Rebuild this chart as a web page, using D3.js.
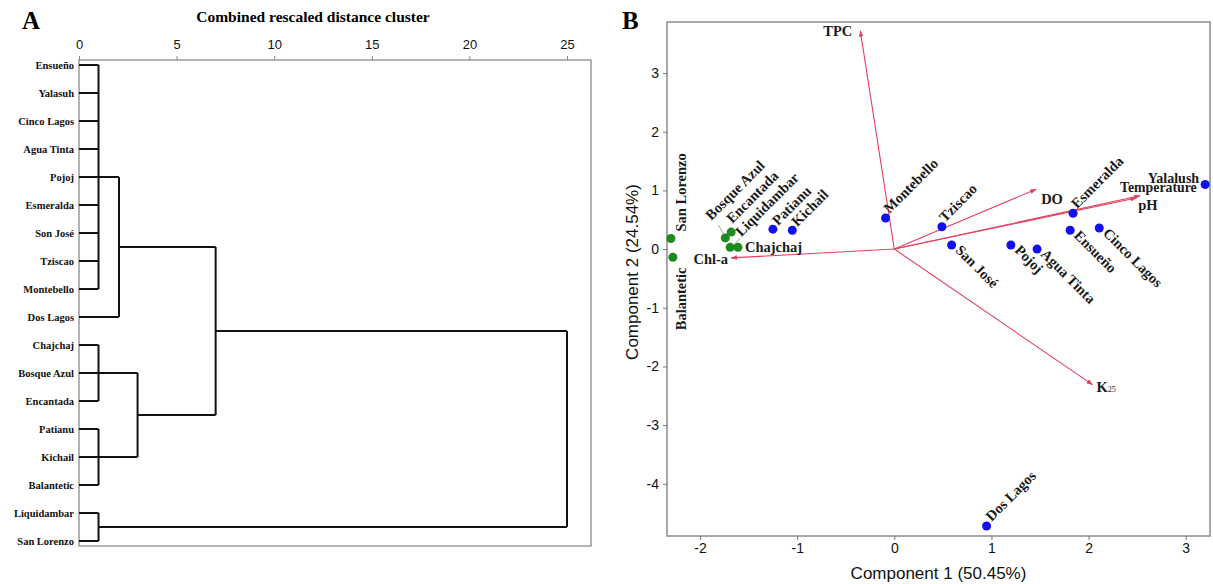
<!DOCTYPE html>
<html><head><meta charset="utf-8">
<script src="https://cdn.jsdelivr.net/npm/d3@7"></script>
<style>body{margin:0;background:#fff}</style>
</head><body>
<svg id="c" width="1213" height="584" xmlns="http://www.w3.org/2000/svg"></svg>
<script>
// ---------- Panel A data (dendrogram) ----------
const leaves = ["Ensueño","Yalasuh","Cinco Lagos","Agua Tinta","Pojoj","Esmeralda","Son José","Tziscao","Montebello","Dos Lagos","Chajchaj","Bosque Azul","Encantada","Patianu","Kichail","Balantetic","Liquidambar","San Lorenzo"];
const mergeIds = ["g1","g2","g3","g4","g5","g6","g7","g8"];
const mergeChildren = [
  ["Ensueño","Yalasuh","Cinco Lagos","Agua Tinta","Pojoj","Esmeralda","Son José","Tziscao","Montebello"],
  ["g1","Dos Lagos"],
  ["Chajchaj","Bosque Azul","Encantada"],
  ["Patianu","Kichail","Balantetic"],
  ["g3","g4"],
  ["g2","g5"],
  ["Liquidambar","San Lorenzo"],
  ["g6","g7"]
];
const mergeHeights = [1, 2.05, 1, 1, 3, 7, 1, 25];
const distTicks = [0,5,10,15,20,25];

// ---------- Panel B data (PCA biplot) ----------
const sites = ["San Lorenzo","Balantetic","Bosque Azul","Encantada","Liquidambar","Chajchaj","Patianu","Kichail","Montebello","Tziscao","San José","Pojoj","Agua Tinta","Esmeralda","Ensueño","Cinco Lagos","Yalalush","Dos Lagos"];
const comp1 = [-2.30,-2.28,-1.74,-1.68,-1.69,-1.61,-1.25,-1.05,-0.09,0.49,0.59,1.20,1.47,1.84,1.81,2.11,3.20,0.95];
const comp2 = [0.18,-0.14,0.19,0.29,0.03,0.03,0.34,0.32,0.53,0.38,0.07,0.07,0.00,0.61,0.32,0.36,1.10,-4.72];
const siteGroup = ["g","g","g","g","g","g","b","b","b","b","b","b","b","b","b","b","b","b"];
const variables = ["TPC","Chl-a","DO","Temperature","pH","K25"];
const loading1 = [-0.35,-1.68,1.46,2.53,2.49,2.04];
const loading2 = [3.72,-0.15,1.02,0.91,0.87,-2.31];
const pcTicksX = [-2,-1,0,1,2,3];
const pcTicksY = [-4,-3,-2,-1,0,1,2,3];

// ---------- styles / layout ----------
const serif = "'Liberation Serif','Times New Roman',serif";
const sans = "'Liberation Sans',Arial,sans-serif";
const svg = d3.select("#c");

// ===== Panel A =====
const A = {l:79, r:591, t:60, b:546};
const xA = d3.scaleLinear().domain([0,25]).range([79,567]);
const yA = d3.scalePoint().domain(leaves).range([65,541]);

svg.append("text").attr("x",22).attr("y",29).text("A")
  .style("font-family",serif).style("font-weight","bold").style("font-size","25px");
svg.append("text").attr("x",313).attr("y",22).attr("text-anchor","middle")
  .text("Combined rescaled distance cluster")
  .style("font-family",serif).style("font-weight","bold").style("font-size","15.5px");

svg.append("rect").attr("x",A.l).attr("y",A.t).attr("width",A.r-A.l).attr("height",A.b-A.t)
  .attr("fill","none").attr("stroke","#9a9a9a").attr("stroke-width",1.5);

const axA = svg.append("g").attr("transform",`translate(0,${A.t})`)
  .call(d3.axisTop(xA).tickValues(distTicks).tickSize(4).tickPadding(7));
axA.select(".domain").remove();
axA.selectAll("line").attr("stroke","#888");
axA.selectAll("text").style("font-family",sans).style("font-size","13px").attr("fill","#111");

// dendrogram geometry
const node = {};
leaves.forEach(n => node[n] = {y:yA(n), h:0});
const gD = svg.append("g").attr("stroke","#111").attr("stroke-width",2).attr("fill","none");
mergeIds.forEach((id,i) => {
  const kids = mergeChildren[i].map(k => node[k]);
  const h = mergeHeights[i];
  const ys = kids.map(k => k.y);
  const y0 = d3.min(ys), y1 = d3.max(ys);
  kids.forEach(k => {
    gD.append("line").attr("x1",xA(k.h)).attr("x2",xA(h)).attr("y1",k.y).attr("y2",k.y);
  });
  gD.append("line").attr("x1",xA(h)).attr("x2",xA(h)).attr("y1",y0).attr("y2",y1);
  node[id] = {y:(y0+y1)/2, h:h};
});
svg.append("g").selectAll("text").data(leaves).join("text")
  .attr("x",74).attr("y",d => yA(d)).attr("dy","0.35em").attr("text-anchor","end")
  .text(d => d)
  .style("font-family",serif).style("font-weight","bold").style("font-size","10.5px").attr("fill","#111");

// ===== Panel B =====
const B = {l:667, r:1210, t:22, b:536};
const xB = d3.scaleLinear().domain([-2.33,3.25]).range([668,B.r]);
const yB = d3.scaleLinear().domain([3.87,-4.89]).range([B.t,B.b]);

svg.append("text").attr("x",622).attr("y",29).text("B")
  .style("font-family",serif).style("font-weight","bold").style("font-size","25px");

svg.append("rect").attr("x",B.l).attr("y",B.t).attr("width",B.r-B.l).attr("height",B.b-B.t)
  .attr("fill","none").attr("stroke","#8a8a8a").attr("stroke-width",1.5);

const axX = svg.append("g").attr("transform",`translate(0,${B.b})`)
  .call(d3.axisBottom(xB).tickValues(pcTicksX).tickSize(4).tickPadding(3).tickFormat(d => String(d)));
const axY = svg.append("g").attr("transform",`translate(${B.l},0)`)
  .call(d3.axisLeft(yB).tickValues(pcTicksY).tickSize(4).tickPadding(4).tickFormat(d => String(d)));
[axX,axY].forEach(a => {
  a.select(".domain").remove();
  a.selectAll("line").attr("stroke","#777");
  a.selectAll("text").style("font-family",sans).style("font-size","14px").attr("fill","#111");
});

svg.append("text").attr("x",(B.l+B.r)/2).attr("y",579).attr("text-anchor","middle")
  .text("Component 1 (50.45%)").style("font-family",sans).style("font-size","17px").attr("fill","#111");
svg.append("text").attr("transform","translate(638,272) rotate(-90)").attr("text-anchor","middle")
  .text("Component 2 (24.54%)").style("font-family",sans).style("font-size","17px").attr("fill","#111");

// arrows
const red = "#e4405f";
svg.append("defs").append("marker").attr("id","ah").attr("viewBox","0 0 10 10")
  .attr("refX",9).attr("refY",5).attr("markerWidth",6).attr("markerHeight",6)
  .attr("orient","auto").append("path").attr("d","M0,1.5 L10,5 L0,8.5 Z").attr("fill",red);

const varLabel = {
  "TPC":{dx:-8,dy:5,anchor:"end",size:14.5},
  "Chl-a":{dx:-3,dy:6,anchor:"end",size:14.5},
  "DO":{dx:5,dy:15,anchor:"start",size:14.5},
  "Temperature":{dx:-20,dy:-4,anchor:"start",size:13.8},
  "pH":{dx:2,dy:12,anchor:"start",size:14.5},
  "K25":{dx:4,dy:7,anchor:"start",size:14.5}
};
const gV = svg.append("g");
variables.forEach((v,i) => {
  const x2 = xB(loading1[i]), y2 = yB(loading2[i]);
  gV.append("line").attr("x1",xB(0)).attr("y1",yB(0)).attr("x2",x2).attr("y2",y2)
    .attr("stroke",red).attr("stroke-width",1.1).attr("marker-end","url(#ah)");
  const st = varLabel[v];
  const t = gV.append("text").attr("x",x2+st.dx).attr("y",y2+st.dy).attr("text-anchor",st.anchor)
    .style("font-family",serif).style("font-weight","bold").style("font-size",st.size+"px").attr("fill","#1a1a1a");
  if (v === "K25") {
    t.append("tspan").text("K");
    t.append("tspan").text("25").style("font-size","8px").style("font-weight","normal");
  } else t.text(v);
});

// points + labels
const siteLabel = {
  "San Lorenzo":{rot:-90,dx:15,dy:-7},
  "Balantetic":{rot:-90,dx:13,dy:73},
  "Bosque Azul":{rot:-45,dx:-14,dy:-17,leader:[-7,-13,-1,-3]},
  "Encantada":{rot:-45,dx:1,dy:-8},
  "Liquidambar":{rot:-45,dx:11,dy:-10,leader:[4,-3,10,-9]},
  "Chajchaj":{rot:0,dx:7,dy:5},
  "Patianu":{rot:-45,dx:5,dy:-3},
  "Kichail":{rot:-45,dx:5,dy:-3},
  "Montebello":{rot:-45,dx:4,dy:-4},
  "Tziscao":{rot:-45,dx:3,dy:-4},
  "San José":{rot:45,dx:3,dy:6},
  "Pojoj":{rot:45,dx:3,dy:6},
  "Agua Tinta":{rot:45,dx:3,dy:6},
  "Esmeralda":{rot:-45,dx:4,dy:-4},
  "Ensueño":{rot:45,dx:3,dy:6},
  "Cinco Lagos":{rot:45,dx:3,dy:6},
  "Yalalush":{rot:0,dx:-6,dy:-2,anchor:"end",size:14},
  "Dos Lagos":{rot:-45,dx:5,dy:-4}
};
const gP = svg.append("g");
sites.forEach((s,i) => {
  const px = xB(comp1[i]), py = yB(comp2[i]);
  const st = siteLabel[s];
  if (st.leader) {
    gP.append("line").attr("x1",px+st.leader[0]).attr("y1",py+st.leader[1])
      .attr("x2",px+st.leader[2]).attr("y2",py+st.leader[3])
      .attr("stroke","#8a8a8a").attr("stroke-width",0.8);
  }
  gP.append("circle").attr("cx",px).attr("cy",py).attr("r",4.5)
    .attr("fill",siteGroup[i]==="g" ? "#1f8a1f" : "#1010f0");
  gP.append("text").attr("transform",`translate(${px+st.dx},${py+st.dy}) rotate(${st.rot})`)
    .attr("text-anchor",st.anchor||"start").text(s)
    .style("font-family",serif).style("font-weight","bold").style("font-size",(st.size||14.5)+"px").attr("fill","#1a1a1a");
});
</script>
</body></html>
